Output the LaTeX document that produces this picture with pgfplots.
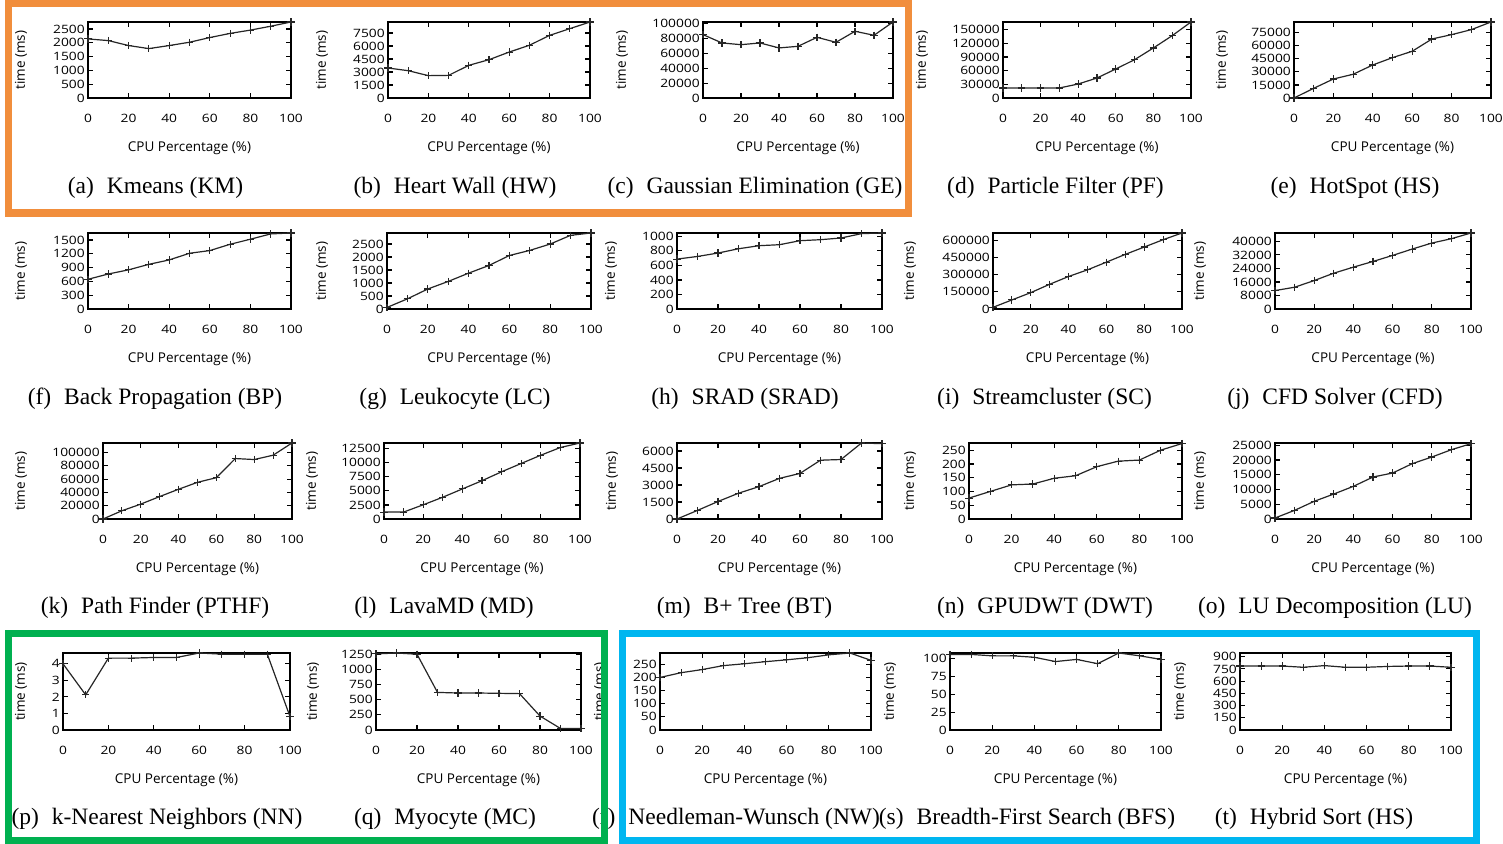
\documentclass[border=0pt]{standalone}
\usepackage{fontspec}
\setmainfont{Liberation Serif}
\newfontfamily\osans{Open Sans}
\usepackage{pgfplots}
\pgfplotsset{compat=1.18}
\definecolor{boxorange}{RGB}{241,142,60}
\definecolor{boxgreen}{RGB}{0,176,80}
\definecolor{boxblue}{RGB}{0,182,240}
\pgfplotsset{
  plt/.style={black!85, line width=1.2pt, mark=+, mark size=3.6pt, mark options={solid, line width=1.1pt}},
  pan/.style={
    anchor=south west, scale only axis, clip=false,
    xmin=0, xmax=100, ymin=0,
    xtick={0,20,...,100},
    tick align=inside, tick pos=both,
    major tick length=5pt,
    axis line style={line width=1.5pt, black},
    every tick/.style={line width=1.2pt, black},
    scaled y ticks=false,
    /pgf/number format/.cd, fixed, precision=2, 1000 sep={}, assume math mode=true, /pgfplots/.cd,
    tick label style={font=\osans\fontsize{11.5}{12}\selectfont, xscale=1.2},
    xticklabel style={anchor=center, yshift=-20pt},
    yticklabel style={inner sep=2.5pt},
    xlabel={CPU Percentage (\%)}, ylabel={time (ms)},
    every axis x label/.style={at={(axis description cs:0.5,0)}, anchor=center, yshift=-50pt,
      font=\osans\fontsize{13.5}{14}\selectfont},
    every axis y label/.style={at={(axis description cs:-#1,0.5)}, anchor=center, rotate=90,
      font=\osans\fontsize{13.5}{14}\selectfont},
  },
  pan/.default=0.33,
}
\newcommand{\subcap}[3]{\node[font=\fontsize{23.5}{25}\selectfont, anchor=center] at (#1pt,#2pt) {#3};}
\begin{document}
\begin{tikzpicture}
\path[use as bounding box] (0pt,0pt) rectangle (1503pt,843pt);
\fill[white] (0pt,0pt) rectangle (1503pt,843pt);
% ---------- Row 1 ----------
\begin{axis}[pan=0.330, at={(88pt,745pt)}, width=203pt, height=76pt, ymax=2754, ytick={0,500,...,2500}]
\addplot[plt] coordinates {(0,2140)(10,2080)(20,1900)(30,1790)(40,1900)(50,2020)(60,2190)(70,2340)(80,2460)(90,2600)(100,2754)};
\end{axis}
\begin{axis}[pan=0.327, at={(388pt,745pt)}, width=202pt, height=76pt, ymax=8770, ytick={0,1500,...,7500}]
\addplot[plt] coordinates {(0,3460)(10,3150)(20,2580)(30,2610)(40,3770)(50,4420)(60,5300)(70,6080)(80,7230)(90,8000)(100,8770)};
\end{axis}
\begin{axis}[pan=0.426, at={(703pt,745pt)}, width=190pt, height=76pt, ymax=102200, ytick={0,20000,40000,60000,80000,100000}]
\addplot[plt] coordinates {(0,85200)(10,74000)(20,71700)(30,74000)(40,67300)(50,69500)(60,81600)(70,74900)(80,89700)(90,84300)(100,102200)};
\end{axis}
\begin{axis}[pan=0.431, at={(1003pt,745pt)}, width=188pt, height=76pt, ymax=166800, ytick={0,30000,60000,90000,120000,150000}]
\addplot[plt] coordinates {(0,22000)(10,22000)(20,22000)(30,22000)(40,30700)(50,43900)(60,63700)(70,84100)(80,109800)(90,136800)(100,166800)};
\end{axis}
\begin{axis}[pan=0.365, at={(1294pt,745pt)}, width=197pt, height=76pt, ymax=87200, ytick={0,15000,30000,45000,60000,75000}]
\addplot[plt] coordinates {(0,0)(10,11100)(20,21800)(30,27200)(40,37900)(50,46300)(60,53600)(70,67700)(80,72700)(90,78400)(100,87200)};
\end{axis}
% ---------- Row 2 ----------
\begin{axis}[pan=0.330, at={(88pt,534pt)}, width=203pt, height=76pt, ymax=1650, ytick={0,300,...,1500}]
\addplot[plt] coordinates {(0,645)(10,760)(20,850)(30,970)(40,1065)(50,1210)(60,1268)(70,1405)(80,1515)(90,1630)(100,1650)};
\end{axis}
\begin{axis}[pan=0.319, at={(387pt,534pt)}, width=204pt, height=76pt, ymax=2925, ytick={0,500,...,2500}]
\addplot[plt] coordinates {(0,60)(10,390)(20,770)(30,1060)(40,1380)(50,1675)(60,2060)(70,2255)(80,2500)(90,2835)(100,2925)};
\end{axis}
\begin{axis}[pan=0.322, at={(677pt,534pt)}, width=205pt, height=76pt, ymax=1046, ytick={0,200,...,1000}]
\addplot[plt] coordinates {(0,687)(10,723)(20,770)(30,829)(40,871)(50,885)(60,940)(70,954)(80,977)(90,1037)(100,1046)};
\end{axis}
\begin{axis}[pan=0.439, at={(993pt,534pt)}, width=189pt, height=76pt, ymax=663700, ytick={0,150000,300000,450000,600000}]
\addplot[plt] coordinates {(0,14600)(10,79000)(20,143000)(30,216000)(40,284000)(50,342000)(60,409000)(70,477000)(80,541000)(90,605000)(100,663700)};
\end{axis}
\begin{axis}[pan=0.383, at={(1275pt,534pt)}, width=196pt, height=76pt, ymax=44950, ytick={0,8000,16000,24000,32000,40000}]
\addplot[plt] coordinates {(0,10900)(10,12870)(20,16830)(30,21190)(40,24750)(50,28120)(60,31680)(70,35450)(80,39000)(90,41580)(100,44950)};
\end{axis}
% ---------- Row 3 ----------
\begin{axis}[pan=0.434, at={(103pt,324pt)}, width=189pt, height=76pt, ymax=114400, ytick={0,20000,40000,60000,80000,100000}]
\addplot[plt] coordinates {(0,0)(10,12400)(20,22400)(30,33800)(40,44800)(50,55200)(60,62200)(70,91000)(80,89500)(90,96000)(100,114400)};
\end{axis}
\begin{axis}[pan=0.367, at={(384pt,324pt)}, width=196pt, height=76pt, ymax=13500, ytick={0,2500,5000,7500,10000,12500}]
\addplot[plt] coordinates {(0,1230)(10,1230)(20,2520)(30,3870)(40,5340)(50,6800)(60,8390)(70,9860)(80,11330)(90,12700)(100,13500)};
\end{axis}
\begin{axis}[pan=0.317, at={(677pt,324pt)}, width=205pt, height=76pt, ymax=6700, ytick={0,1500,...,6000}]
\addplot[plt] coordinates {(0,0)(10,757)(20,1544)(30,2272)(40,2854)(50,3583)(60,4019)(70,5184)(80,5243)(90,6700)(100,6640)};
\end{axis}
\begin{axis}[pan=0.277, at={(969pt,324pt)}, width=213pt, height=76pt, ymax=276, ytick={0,50,...,250}]
\addplot[plt] coordinates {(0,76)(10,100)(20,124)(30,127)(40,148)(50,157)(60,190)(70,210)(80,214)(90,250)(100,274)};
\end{axis}
\begin{axis}[pan=0.383, at={(1275pt,324pt)}, width=196pt, height=76pt, ymax=25800, ytick={0,5000,10000,15000,20000,25000}]
\addplot[plt] coordinates {(0,340)(10,2940)(20,6000)(30,8480)(40,11090)(50,14250)(60,15610)(70,18780)(80,21040)(90,23530)(100,25570)};
\end{axis}
% ---------- Row 4 ----------
\begin{axis}[pan=0.185, at={(63pt,113pt)}, width=227pt, height=77pt, ymax=4.65, ytick={0,1,2,3,4}]
\addplot[plt] coordinates {(0,4.0)(10,2.12)(20,4.34)(30,4.34)(40,4.38)(50,4.38)(60,4.65)(70,4.58)(80,4.58)(90,4.58)(100,0.81)};
\end{axis}
\begin{axis}[pan=0.307, at={(376pt,113pt)}, width=205pt, height=77pt, ymax=1270, ytick={0,250,...,1250}]
\addplot[plt] coordinates {(0,1255)(10,1270)(20,1250)(30,620)(40,610)(50,610)(60,605)(70,600)(80,230)(90,25)(100,25)};
\end{axis}
\begin{axis}[pan=0.284, at={(660pt,113pt)}, width=211pt, height=77pt, ymax=293, ytick={0,50,...,250}]
\addplot[plt] coordinates {(0,200)(10,218)(20,230)(30,245)(40,252)(50,260)(60,267)(70,275)(80,286)(90,293)(100,265)};
\end{axis}
\begin{axis}[pan=0.284, at={(950pt,113pt)}, width=211pt, height=77pt, ymax=108, ytick={0,25,...,100}]
\addplot[plt] coordinates {(0,106)(10,106)(20,104)(30,104)(40,102)(50,96)(60,99)(70,93)(80,108)(90,104)(100,99)};
\end{axis}
\begin{axis}[pan=0.284, at={(1240pt,113pt)}, width=211pt, height=77pt, ymax=945, ytick={0,150,...,900}]
\addplot[plt] coordinates {(0,785)(10,785)(20,785)(30,770)(40,790)(50,770)(60,770)(70,780)(80,785)(90,785)(100,770)};
\end{axis}
% ---------- Captions ----------
\subcap{155.5}{655}{(a)\hspace{0.3em} Kmeans (KM)}
\subcap{455}{655}{(b)\hspace{0.3em} Heart Wall (HW)}
\subcap{755}{655}{(c)\hspace{0.3em} Gaussian Elimination (GE)}
\subcap{1055.5}{655}{(d)\hspace{0.3em} Particle Filter (PF)}
\subcap{1355}{655}{(e)\hspace{0.3em} HotSpot (HS)}
\subcap{155}{444}{(f)\hspace{0.3em} Back Propagation (BP)}
\subcap{455}{444}{(g)\hspace{0.3em} Leukocyte (LC)}
\subcap{745}{444}{(h)\hspace{0.3em} SRAD (SRAD)}
\subcap{1044.5}{444}{(i)\hspace{0.3em} Streamcluster (SC)}
\subcap{1335}{444}{(j)\hspace{0.3em} CFD Solver (CFD)}
\subcap{155}{235}{(k)\hspace{0.3em} Path Finder (PTHF)}
\subcap{444}{235}{(l)\hspace{0.3em} LavaMD (MD)}
\subcap{744.5}{235}{(m)\hspace{0.3em} B+ Tree (BT)}
\subcap{1045}{235}{(n)\hspace{0.3em} GPUDWT (DWT)}
\subcap{1335}{235}{(o)\hspace{0.3em} LU Decomposition (LU)}
\subcap{157}{24}{(p)\hspace{0.3em} k-Nearest Neighbors (NN)}
\subcap{445}{24}{(q)\hspace{0.3em} Myocyte (MC)}
\subcap{736}{24}{(r)\hspace{0.3em} Needleman-Wunsch (NW)}
\subcap{1027}{24}{(s)\hspace{0.3em} Breadth-First Search (BFS)}
\subcap{1314}{24}{(t)\hspace{0.3em} Hybrid Sort (HS)}
% ---------- Highlight boxes ----------
\draw[boxorange, line width=7.5pt] (8.5pt,839.5pt) rectangle (908.5pt,630pt);
\draw[boxgreen, line width=7pt] (8.5pt,209pt) rectangle (604pt,3pt);
\draw[boxblue, line width=7pt] (622pt,209pt) rectangle (1476pt,3pt);
\end{tikzpicture}
\end{document}
